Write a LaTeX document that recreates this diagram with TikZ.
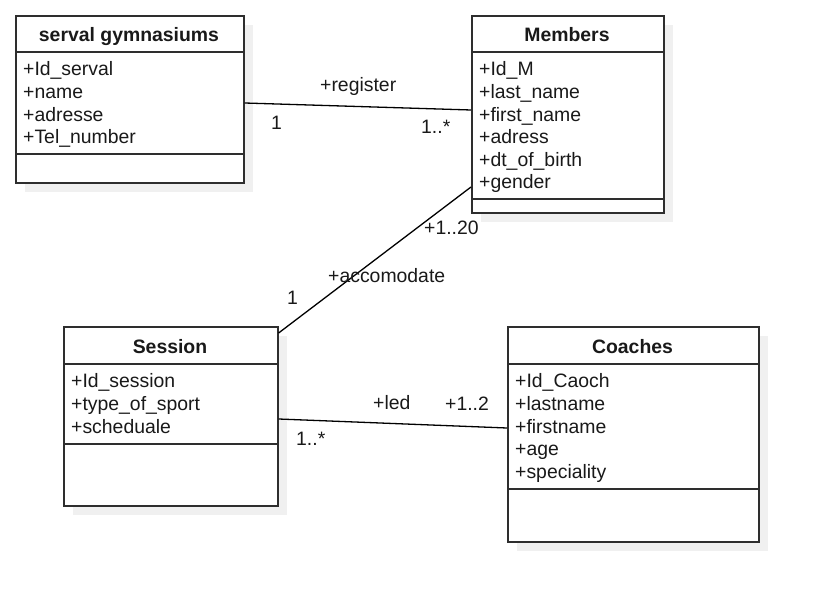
\documentclass[tikz,border=0pt]{standalone}
\usepackage{fontspec}
\setmainfont{Liberation Sans}
\begin{document}
\begin{tikzpicture}[x=1pt,y=-1pt,
  box/.style={draw=black!82, line width=1.6pt, fill=white, inner sep=0pt, anchor=north west},
  shade/.style={fill=black!6, draw=none},
  sep/.style={draw=black!82, line width=1.6pt},
  txt/.style={font=\fontsize{19.4}{22.5}\selectfont, text=black!90, inner sep=0pt, anchor=base west},
  ttl/.style={font=\bfseries\fontsize{19.4}{22.5}\selectfont, text=black!90, inner sep=0pt, anchor=base},
  conn/.style={draw=black, line width=1.3pt}]
\useasboundingbox (0,0) rectangle (817,601);
\fill[white] (0,0) rectangle (817,601);
% shadows
\fill[shade] (25,25) rectangle (253,192);
\fill[shade] (481,25) rectangle (673,222);
\fill[shade] (73,336) rectangle (287,515);
\fill[shade] (517,336) rectangle (768,551);
% boxes
\node[box, minimum width=228pt, minimum height=167pt] (serval) at (15,15) {};
\node[box, minimum width=192pt, minimum height=197pt] (members) at (471,15) {};
\node[box, minimum width=214pt, minimum height=179pt] (session) at (63,326) {};
\node[box, minimum width=251pt, minimum height=215pt] (coaches) at (507,326) {};
% separators
\draw[sep] (serval.west |- 0,52) -- (serval.east |- 0,52);
\draw[sep] (serval.west |- 0,154) -- (serval.east |- 0,154);
\draw[sep] (members.west |- 0,52) -- (members.east |- 0,52);
\draw[sep] (members.west |- 0,199) -- (members.east |- 0,199);
\draw[sep] (session.west |- 0,364) -- (session.east |- 0,364);
\draw[sep] (session.west |- 0,444) -- (session.east |- 0,444);
\draw[sep] (coaches.west |- 0,364) -- (coaches.east |- 0,364);
\draw[sep] (coaches.west |- 0,489) -- (coaches.east |- 0,489);
% titles
\node[ttl] (t1) at (129,42) {serval gymnasiums};
\node[ttl] (t2) at (567,42) {Members};
\node[ttl] (t3) at (170,354) {Session};
\node[ttl] (t4) at (632.5,354) {Coaches};
% attributes
\foreach \t [count=\i from 0] in {+Id\_serval,+name,+adresse,+Tel\_number}
  \node[txt] (sa\i) at (23,76+22.6*\i) {\t};
\foreach \t [count=\i from 0] in {+Id\_M,+last\_name,+first\_name,+adress,+dt\_of\_birth,+gender}
  \node[txt] (ma\i) at (479,76+22.6*\i) {\t};
\foreach \t [count=\i from 0] in {+Id\_session,+type\_of\_sport,+scheduale}
  \node[txt] (se\i) at (71,388+22.6*\i) {\t};
\foreach \t [count=\i from 0] in {+Id\_Caoch,+lastname,+firstname,+age,+speciality}
  \node[txt] (ca\i) at (515,388+22.6*\i) {\t};
% connectors
\draw[conn] (serval.east |- 0,103) -- (members.west |- 0,110);
\draw[conn] (session.east |- 0,333) -- (members.west |- 0,187);
\draw[conn] (session.east |- 0,419) -- (coaches.west |- 0,428);
% labels
\node[txt] (l1) at (320,92) {+register};
\node[txt] (l2) at (271,130) {1};
\node[txt] (l3) at (421,134) {1..*};
\node[txt] (l4) at (424,235) {+1..20};
\node[txt] (l5) at (328,283) {+accomodate};
\node[txt] (l6) at (287,305) {1};
\node[txt] (l7) at (373,410) {+led};
\node[txt] (l8) at (445,411) {+1..2};
\node[txt] (l9) at (296,446) {1..*};
\end{tikzpicture}
\end{document}
